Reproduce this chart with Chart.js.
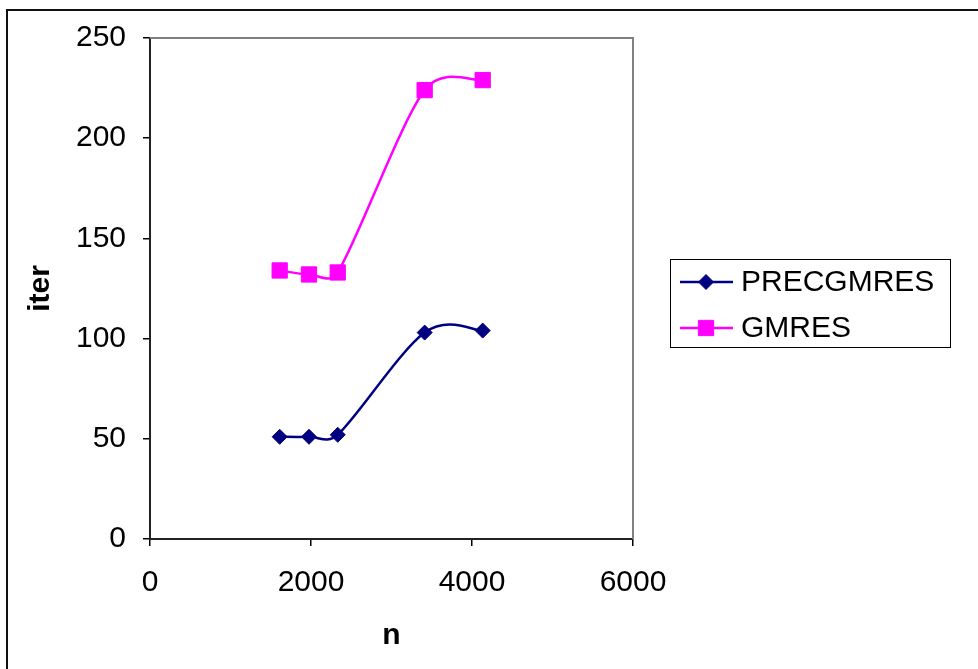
<!DOCTYPE html>
<html>
<head>
<meta charset="utf-8">
<script src="https://cdn.jsdelivr.net/npm/chart.js@4.4.0/dist/chart.umd.min.js"></script>
<style>
  html, body { margin: 0; padding: 0; background: #fff; }
  #wrap { width: 978px; height: 669px; position: relative; }
</style>
</head>
<body>
<div id="wrap"><canvas id="iterChart" width="978" height="669"></canvas></div>
<script>
// problem size n and iteration counts
const sizes = [1611, 1975, 2332, 3412, 4133];
const precIters = [51, 51, 52, 103, 104];
const gmresIters = [134, 132, 133, 224, 229];
const seriesNames = ["PRECGMRES", "GMRES"];
const xTicks = [0, 2000, 4000, 6000];
const yTicks = [0, 50, 100, 150, 200, 250];

const FONT = "'Liberation Sans', Arial, sans-serif";

function pts(ys) {
  return sizes.map((x, i) => ({ x, y: ys[i] }));
}

// Catmull-Rom style control points, each handle capped at half its segment
function clampHandle(dx, dy, maxLen) {
  const len = Math.hypot(dx, dy);
  if (len > maxLen && len > 0) {
    const k = maxLen / len;
    return [dx * k, dy * k];
  }
  return [dx, dy];
}

const smoothing = {
  id: "smoothing",
  beforeDatasetDraw(chart, args) {
    const meta = args.meta;
    const line = meta.dataset;
    if (!line) return;
    line.updateControlPoints(chart.chartArea, "x");
    const p = meta.data;
    for (let i = 0; i < p.length; i++) {
      const prev = p[i - 1] || p[i];
      const next = p[i + 1] || p[i];
      const tx = (next.x - prev.x) / 6;
      const ty = (next.y - prev.y) / 6;
      const dPrev = Math.hypot(p[i].x - prev.x, p[i].y - prev.y);
      const dNext = Math.hypot(next.x - p[i].x, next.y - p[i].y);
      const a = clampHandle(tx, ty, dPrev * 0.5);
      const b = clampHandle(tx, ty, dNext * 0.5);
      p[i].cp1x = p[i].x - a[0];
      p[i].cp1y = p[i].y - a[1];
      p[i].cp2x = p[i].x + b[0];
      p[i].cp2y = p[i].y + b[1];
    }
    line._path = undefined;
  }
};

// frame around the whole figure, grey box round the plot, and the legend
const decor = {
  id: "decor",
  beforeDraw(chart) {
    const ctx = chart.ctx;
    ctx.save();
    ctx.fillStyle = "#fff";
    ctx.fillRect(0, 0, chart.width, chart.height);
    ctx.strokeStyle = "#111";
    ctx.lineWidth = 2;
    ctx.strokeRect(7, 10, chart.width + 10, chart.height + 10);
    ctx.restore();
  },
  afterDraw(chart) {
    const ctx = chart.ctx;
    const a = chart.chartArea;
    ctx.save();
    ctx.strokeStyle = "#808080";
    ctx.lineWidth = 2;
    ctx.beginPath();
    ctx.moveTo(a.left, a.top);
    ctx.lineTo(a.right, a.top);
    ctx.lineTo(a.right, a.bottom);
    ctx.stroke();

    // legend
    ctx.strokeStyle = "#000";
    ctx.lineWidth = 1;
    ctx.strokeRect(670.5, 259.5, 280, 88);
    const rows = [282, 328];
    chart.data.datasets.forEach((ds, i) => {
      const y = rows[i];
      ctx.strokeStyle = ds.borderColor;
      ctx.lineWidth = 2.5;
      ctx.beginPath();
      ctx.moveTo(680, y);
      ctx.lineTo(733, y);
      ctx.stroke();
      ctx.fillStyle = ds.pointBackgroundColor;
      ctx.strokeStyle = ds.pointBorderColor;
      ctx.lineWidth = 1;
      Chart.helpers.drawPoint(ctx, { pointStyle: ds.pointStyle, radius: ds.pointRadius, borderWidth: 1 }, 706, y);
      ctx.fillStyle = "#000";
      ctx.font = "30px " + FONT;
      ctx.textBaseline = "middle";
      ctx.textAlign = "left";
      ctx.fillText(ds.label, 741, y + 1);
    });
    ctx.restore();
  }
};

new Chart(document.getElementById("iterChart"), {
  type: "line",
  data: {
    datasets: [
      {
        label: seriesNames[0],
        data: pts(precIters),
        borderColor: "#000080",
        backgroundColor: "#000080",
        pointBackgroundColor: "#000080",
        pointBorderColor: "#000080",
        pointStyle: "rectRot",
        pointRadius: 7.5,
        pointBorderWidth: 1,
        borderWidth: 2.5,
        tension: 0.3
      },
      {
        label: seriesNames[1],
        data: pts(gmresIters),
        borderColor: "#ff00ff",
        backgroundColor: "#ff00ff",
        pointBackgroundColor: "#ff00ff",
        pointBorderColor: "#ff00ff",
        pointStyle: "rect",
        pointRadius: 10.8,
        pointBorderWidth: 1,
        borderWidth: 2.5,
        tension: 0.3
      }
    ]
  },
  options: {
    responsive: false,
    devicePixelRatio: 1,
    animation: false,
    events: [],
    layout: { padding: { left: 0, top: 38, right: 345, bottom: 0 } },
    plugins: { legend: { display: false }, tooltip: { enabled: false } },
    scales: {
      x: {
        type: "linear",
        min: 0,
        max: 6000,
        afterFit(s) { s.height = 130; },
        afterBuildTicks(s) { s.ticks = xTicks.map(v => ({ value: v })); },
        grid: { drawOnChartArea: false, drawTicks: true, tickLength: 7, color: "#000", lineWidth: 1.5 },
        border: { display: true, color: "#222", width: 2 },
        ticks: { color: "#000", font: { family: FONT, size: 30 }, padding: 19, maxRotation: 0, callback: v => String(v) },
        title: { display: true, text: "n", color: "#000", font: { family: FONT, size: 30, weight: "bold" }, padding: { top: 0, bottom: 15 } }
      },
      y: {
        min: 0,
        max: 250,
        afterFit(s) { s.width = 150; },
        afterBuildTicks(s) { s.ticks = yTicks.map(v => ({ value: v })); },
        grid: { drawOnChartArea: false, drawTicks: true, tickLength: 7, color: "#000", lineWidth: 1.5 },
        border: { display: true, color: "#222", width: 2 },
        ticks: { color: "#000", font: { family: FONT, size: 30 }, padding: 17, callback: v => String(v) },
        title: { display: true, text: "iter", color: "#000", font: { family: FONT, size: 30, weight: "bold" }, padding: { top: 23, bottom: 0 } }
      }
    }
  },
  plugins: [smoothing, decor]
});
</script>
</body>
</html>
